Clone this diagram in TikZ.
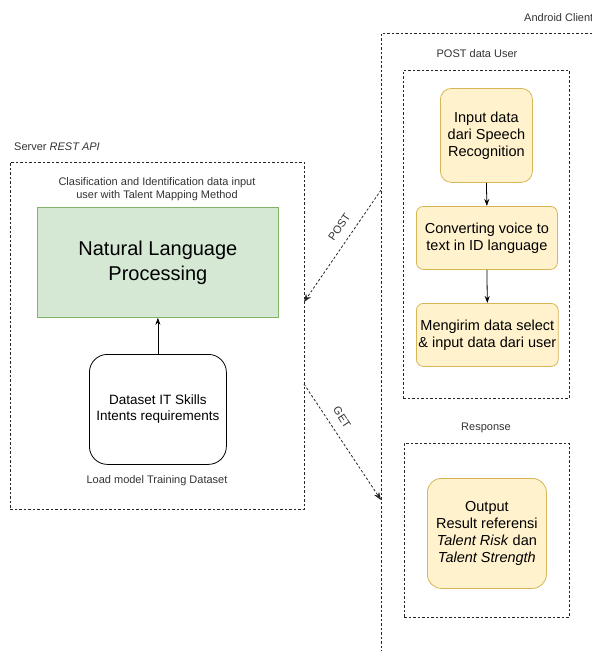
\documentclass[tikz,border=0pt]{standalone}
\usepackage{fontspec}
\setmainfont{Liberation Sans}
\usetikzlibrary{arrows.meta}
\definecolor{noteFill}{HTML}{FFF2CC}
\definecolor{noteLine}{HTML}{D6B656}
\definecolor{nlpFill}{HTML}{D5E8D4}
\definecolor{nlpLine}{HTML}{82B366}
\definecolor{capText}{HTML}{333333}
\begin{document}
\begin{tikzpicture}[x=1pt,y=-1pt,
  frame/.style={draw=black!85,line width=0.8pt,dash pattern=on 2.5pt off 2pt},
  lbl/.style={font=\fontsize{11}{13}\selectfont,text=capText,inner sep=0pt},
  ybox/.style={draw=noteLine,fill=noteFill,line width=0.8pt,rounded corners=11pt,
    align=center,font=\fontsize{14.5}{17}\selectfont,inner sep=2pt},
  gbox/.style={draw=nlpLine,fill=nlpFill,line width=0.8pt,
    align=center,font=\fontsize{20}{25}\selectfont},
  wbox/.style={draw=black,line width=0.8pt,rounded corners=18pt,align=center,
    font=\fontsize{13.5}{16}\selectfont},
  flow/.style={draw=black,line width=0.8pt,-{Stealth[length=7pt,width=5pt]}},
  call/.style={frame,-{Stealth[length=8pt,width=6pt]}}
]
\clip (0,0) rectangle (592,651);
\useasboundingbox (0,0) rectangle (592,651);

% Server side
\node (server) [frame,minimum width=294pt,minimum height=347pt,anchor=north west] at (10,162) {};
\node [lbl,anchor=west] at (14,147) {Server \textit{REST API}};
\node [lbl,align=center] at (157,189) {Clasification and Identification data input\\user with Talent Mapping Method};
\node (nlp) [gbox,minimum width=241pt,minimum height=110pt,anchor=north west] at (37,207) {Natural Language\\Processing};
\node (data) [wbox,minimum width=137pt,minimum height=110pt,anchor=north west] at (89,354) {Dataset IT Skills\\Intents requirements};
\node [lbl] at (157,481) {Load model Training Dataset};
\draw [flow] (data.north) -- (nlp.south);

% Android client side
\node (client) [frame,minimum width=240pt,minimum height=640pt,anchor=north west] at (381,33) {};
\node [lbl,anchor=west] at (524,18) {Android Client};

\node (postbox) [frame,minimum width=166pt,minimum height=328pt,anchor=north west] at (403,70) {};
\node [lbl] at (477,54) {POST data User};
\node (inp) [ybox,minimum width=92pt,minimum height=94pt,anchor=north west] at (440,88) {Input data\\dari Speech\\Recognition};
\node (conv) [ybox,rounded corners=7pt,minimum width=141pt,minimum height=63pt,anchor=north west] at (416,206) {Converting voice to\\text in ID language};
\node (send) [ybox,rounded corners=7pt,minimum width=141pt,minimum height=63pt,anchor=north west] at (416,303) {Mengirim data select\\\& input data dari user};
\draw [flow] (inp.south) -- (conv.north);
\draw [flow] (conv.south) -- (send.north);

\node (resbox) [frame,minimum width=165pt,minimum height=174pt,anchor=north west] at (404,443) {};
\node [lbl] at (486,428) {Response};
\node (out) [ybox,rounded corners=14pt,minimum width=119pt,minimum height=110pt,anchor=north west] at (427,478) {Output\\Result referensi\\\textit{Talent Risk} dan\\\textit{Talent Strength}};

% Requests between client and server
\coordinate (postsrc) at (381,190);
\coordinate (postdst) at (304,302);
\coordinate (getsrc) at (304,384);
\coordinate (getdst) at (381,500);
\draw [call] (postsrc) -- (postdst) node [lbl,pos=0.4,sloped,above=9pt] {POST};
\draw [call] (getsrc) -- (getdst) node [lbl,pos=0.35,sloped,above=9pt] {GET};
\end{tikzpicture}
\end{document}
